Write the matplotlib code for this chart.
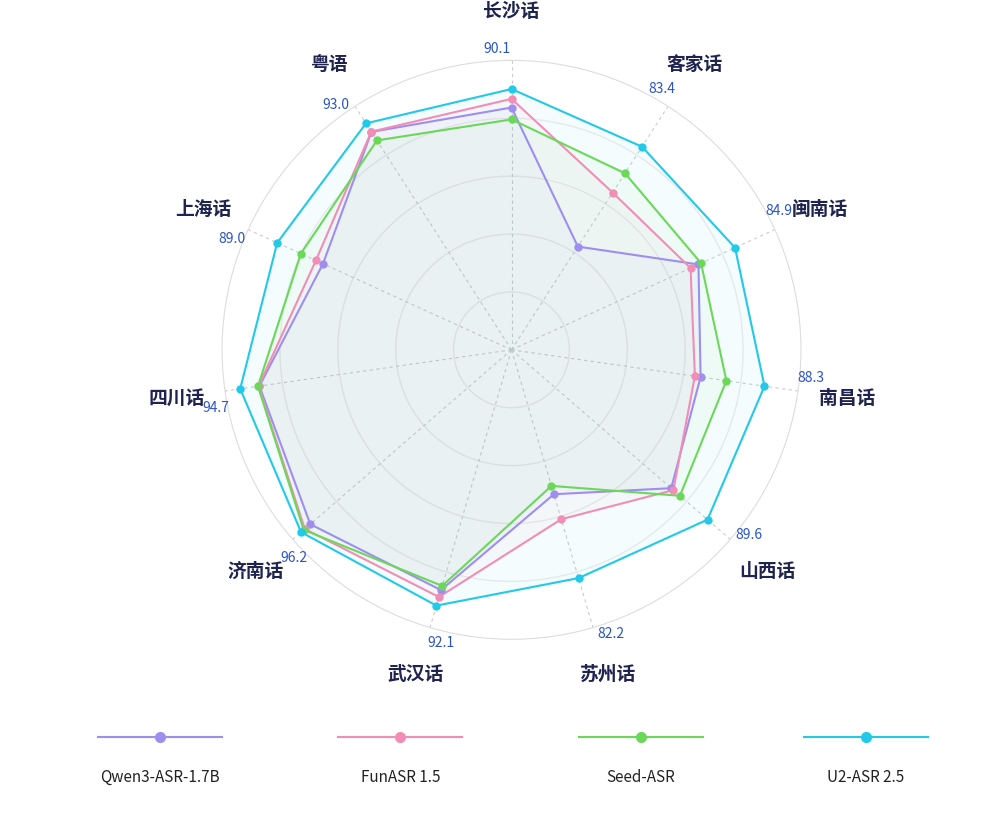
import numpy as np
import matplotlib.pyplot as plt
from matplotlib.lines import Line2D

plt.rcParams['font.family'] = ['Noto Sans CJK SC', 'DejaVu Sans']

dialects = ['长沙话', '客家话', '闽南话', '南昌话', '山西话', '苏州话',
            '武汉话', '济南话', '四川话', '上海话', '粤语']
qwen = [83.7, 42.4, 71.0, 66.0, 73.0, 52.0, 86.5, 92.0, 88.0, 71.6, 89.5]
funasr = [86.7, 64.6, 68.0, 64.0, 74.0, 61.0, 89.0, 94.5, 88.3, 74.3, 89.6]
seed = [79.6, 72.5, 72.0, 75.0, 77.0, 49.0, 85.0, 95.0, 88.5, 80.0, 86.0]
u2 = [90.1, 83.4, 84.9, 88.3, 89.6, 82.2, 92.1, 96.2, 94.7, 89.0, 93.0]

series = [('Qwen3-ASR-1.7B', qwen, '#9d8ef0'),
          ('FunASR 1.5', funasr, '#f28db5'),
          ('Seed-ASR', seed, '#6bd85a'),
          ('U2-ASR 2.5', u2, '#22c9e8')]

n = len(dialects)
theta = np.linspace(0, 2 * np.pi, n, endpoint=False)

fig = plt.figure(figsize=(10.01, 8.27), dpi=100)
ax = fig.add_axes([0.221, 0.227, 0.58, 0.70], projection='polar')
ax.set_theta_zero_location('N')
ax.set_theta_direction(-1)
ax.set_ylim(0, 100)
ax.set_yticks([20, 40, 60, 80, 100])
ax.set_yticklabels([])
ax.set_xticks([])
ax.grid(False)
ax.spines['polar'].set_color('#dddddd')
ax.set_facecolor('white')

tt = np.linspace(0, 2 * np.pi, 300)
for r in [20, 40, 60, 80]:
    ax.plot(tt, np.full_like(tt, r), color='#ececec', lw=1, zorder=0)
for t in theta:
    ax.plot([t, t], [0, 100], color='#cccccc', lw=0.8, ls=(0, (3, 3)), zorder=0)

for name, vals, c in series:
    tc = np.append(theta, theta[0])
    vc = np.append(vals, vals[0])
    ax.fill(tc, vc, color=c, alpha=0.045, zorder=1)
    ax.plot(tc, vc, color=c, lw=1.5, zorder=2)
    ax.plot(theta, vals, 'o', color=c, ms=5, zorder=3)

for t, lab, v in zip(theta, dialects, u2):
    ax.text(t, 117, lab, ha='center', va='center', fontsize=13.5,
            fontweight='bold', color='#1e2350')
    ax.text(t - 0.05, 104, f'{v:.1f}', ha='center', va='center',
            fontsize=10, color='#2a55c8')

xs = [0.16, 0.40, 0.64, 0.865]
for (name, vals, c), x in zip(series, xs):
    fig.add_artist(Line2D([x - 0.062, x + 0.062], [0.109, 0.109], color=c, lw=1.5,
                          transform=fig.transFigure))
    fig.add_artist(Line2D([x], [0.109], marker='o', color=c, ms=7,
                          transform=fig.transFigure))
    fig.text(x, 0.06, name, ha='center', va='center', fontsize=11, color='#222222')

fig.savefig('out.png', dpi=100, facecolor='white')
